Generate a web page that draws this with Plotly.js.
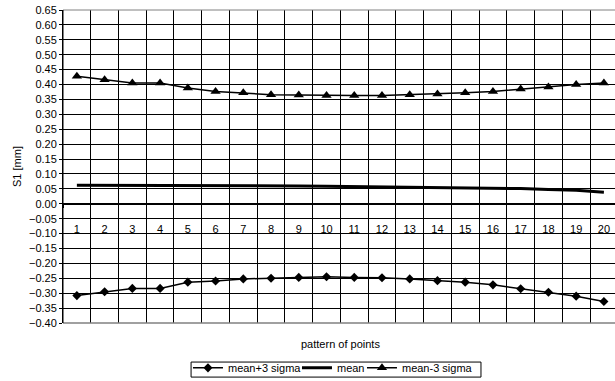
<!DOCTYPE html>
<html>
<head>
<meta charset="utf-8">
<script src="https://cdn.plot.ly/plotly-3.0.1.min.js"></script>
<style>html,body{margin:0;padding:0;background:#fff;}#chart{width:615px;height:381px;}</style>
</head>
<body>
<div id="chart"></div>
<script>
const categories = ['1','2','3','4','5','6','7','8','9','10','11','12','13','14','15','16','17','18','19','20'];
const meanPlus3Sigma = [-0.308,-0.295,-0.284,-0.284,-0.263,-0.259,-0.252,-0.250,-0.247,-0.245,-0.247,-0.248,-0.252,-0.258,-0.263,-0.272,-0.285,-0.297,-0.310,-0.328];
const meanValues = [0.062,0.062,0.062,0.062,0.062,0.061,0.061,0.060,0.060,0.059,0.058,0.058,0.057,0.056,0.055,0.053,0.051,0.048,0.045,0.039];
const meanMinus3Sigma = [0.428,0.416,0.405,0.405,0.388,0.377,0.372,0.366,0.365,0.363,0.363,0.363,0.366,0.368,0.372,0.377,0.385,0.392,0.400,0.405];
const seriesNames = ['mean+3 sigma','mean','mean-3 sigma'];

const font = {family:'"Liberation Sans", Arial, sans-serif', size:11, color:'#000'};

const traces = [
  {x:categories, y:meanPlus3Sigma, name:seriesNames[0], type:'scatter', mode:'lines+markers', legendwidth:64,
   line:{color:'#000', width:1.5}, marker:{symbol:'diamond', size:7, color:'#000'}},
  {x:categories, y:meanValues, name:seriesNames[1], type:'scatter', mode:'lines', legendwidth:20,
   line:{color:'#000', width:3}},
  {x:categories, y:meanMinus3Sigma, name:seriesNames[2], type:'scatter', mode:'lines+markers', legendwidth:76,
   line:{color:'#000', width:1.5}, marker:{symbol:'triangle-up', size:9, color:'#000'}}
];

const layout = {
  width:615, height:381,
  margin:{l:63, r:0, t:10, b:58, autoexpand:false},
  paper_bgcolor:'#fff', plot_bgcolor:'#fff',
  font:font,
  showlegend:true,
  xaxis:{
    type:'category', range:[-0.5, 19.4], tickson:'boundaries',
    showgrid:true, gridcolor:'#000', gridwidth:1,
    ticks:'outside', ticklen:3, tickcolor:'#000',
    showline:true, linecolor:'#000', linewidth:1,
    anchor:'free', position:0.40/1.05,
    ticklabelstandoff:15,
    tickfont:font, fixedrange:true, zeroline:false
  },
  yaxis:{
    range:[-0.40, 0.65], dtick:0.05, tick0:0, tickformat:'.2f',
    showgrid:true, gridcolor:'#000', gridwidth:1,
    ticks:'outside', ticklen:3, tickcolor:'#000',
    showline:true, linecolor:'#000', linewidth:1,
    zeroline:false, tickfont:font,
    title:{text:'S1 [mm]', font:font, standoff:5}
  },
  legend:{
    orientation:'h', x:0.2264, xanchor:'left', y:-0.097, yanchor:'top',
    borderwidth:0, bgcolor:'rgba(0,0,0,0)',
    font:font, itemwidth:30, tracegroupgap:0
  },
  annotations:[
    {text:'pattern of points', xref:'paper', yref:'paper', x:0.502, y:-0.068, xanchor:'center', yanchor:'middle', showarrow:false, font:font}
  ],
  shapes:[
    {type:'line', xref:'paper', yref:'paper', x0:0, x1:1, y0:1, y1:1, line:{color:'#808080', width:1}, layer:'above'},
    {type:'line', xref:'paper', yref:'paper', x0:0, x1:1, y0:0, y1:0, line:{color:'#808080', width:1.5}, layer:'above'},
    {type:'line', xref:'paper', yref:'paper', x0:0, x1:0, y0:0, y1:1, line:{color:'#000', width:1}, layer:'above'},
    {type:'rect', xref:'paper', yref:'paper', x0:0.232, x1:0.7572, y0:-0.1248, y1:-0.1728, line:{color:'#000', width:1}, fillcolor:'rgba(0,0,0,0)', layer:'below'}
  ]
};

Plotly.newPlot('chart', traces, layout, {displayModeBar:false, staticPlot:true});
</script>
</body>
</html>
